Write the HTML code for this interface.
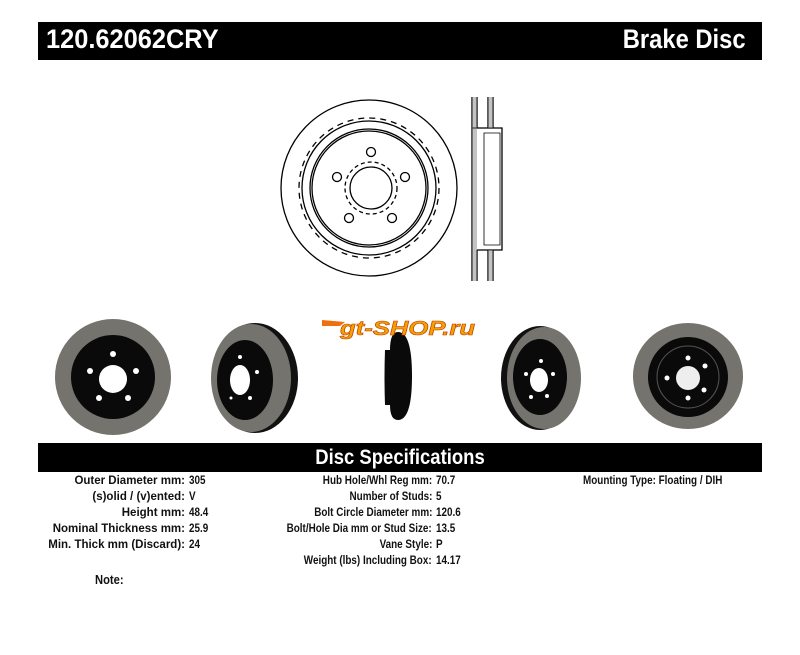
<!DOCTYPE html>
<html><head><meta charset="utf-8"><style>
body{margin:0;background:#fff;width:800px;height:655px;overflow:hidden;position:relative;font-family:"Liberation Sans",Arial,sans-serif;}
.bar{position:absolute;background:#000;color:#fff;font-weight:bold;}
.t{position:absolute;font-weight:bold;font-size:11.5px;white-space:nowrap;transform:scaleX(0.86);color:#111;}
.r{transform-origin:right center;text-align:right}
.l{transform-origin:left center}
.c1{transform:scaleX(1.0)}
</style></head><body>
<div class="bar" style="left:38px;top:22px;width:724px;height:38px"></div>
<div class="t l" style="left:46px;top:24px;font-size:27px;color:#fff;transform:scaleX(0.94)">120.62062CRY</div>
<div class="t r" style="right:54px;top:24px;font-size:27px;color:#fff;transform:scaleX(0.88)">Brake Disc</div>

<svg style="position:absolute;left:0;top:0" width="800" height="655">
<g fill="none" stroke="#000" stroke-width="1.3">
<circle cx="369" cy="188" r="88"/>
<circle cx="369" cy="188" r="70" stroke-dasharray="6 5"/>
<circle cx="369" cy="188" r="67"/>
<circle cx="369" cy="188" r="59"/>
<circle cx="369" cy="188" r="57"/>
<circle cx="371" cy="188" r="21"/>
<circle cx="371" cy="188" r="26" stroke-dasharray="4 3"/>
<circle cx="371" cy="152" r="4.5"/><circle cx="405" cy="177" r="4.5"/><circle cx="392" cy="218" r="4.5"/><circle cx="349" cy="218" r="4.5"/><circle cx="337" cy="177" r="4.5"/>
<path d="M472 97V281M477 97V128M477 250V281M488 97V128M488 250V281M493 97V128M493 250V281M477 128H502V250H477M472 128H477"/>
<path d="M484 133H500V245H484Z" stroke-width="0.8"/>
</g>
<rect x="472" y="97" width="5" height="184" fill="#888" opacity="0.5"/>
<rect x="488" y="97" width="5" height="31" fill="#888" opacity="0.5"/>
<rect x="488" y="250" width="5" height="31" fill="#888" opacity="0.5"/>

<circle cx="113" cy="377" r="58" fill="#75736e"/>
<circle cx="113" cy="377" r="42" fill="#0a0a0a"/>
<circle cx="113" cy="379" r="14" fill="#fff"/>
<g fill="#fff"><circle cx="113" cy="354" r="3"/><circle cx="136" cy="371" r="3"/><circle cx="128" cy="398" r="3"/><circle cx="99" cy="398" r="3"/><circle cx="90" cy="371" r="3"/></g>
<ellipse cx="255" cy="378" rx="43" ry="55" fill="#111"/>
<ellipse cx="251" cy="378" rx="40" ry="54" fill="#75736e"/>
<ellipse cx="245" cy="380" rx="28" ry="40" fill="#0a0a0a"/>
<ellipse cx="240" cy="380" rx="10" ry="15" fill="#fff"/>
<g fill="#fff"><circle cx="240" cy="357" r="2"/><circle cx="257" cy="372" r="2"/><circle cx="250" cy="398" r="2"/><circle cx="231" cy="398" r="1.5"/></g>
<path d="M398 332 Q412 332 412 376 Q412 420 398 420 Q390 420 390 405 L385 405 Q384 376 385 350 L390 350 Q390 332 398 332Z" fill="#0a0a0a"/>
<ellipse cx="540" cy="378" rx="39" ry="52" fill="#111"/>
<ellipse cx="544" cy="378" rx="37" ry="51" fill="#75736e"/>
<ellipse cx="540" cy="377" rx="27" ry="38" fill="#0a0a0a"/>
<ellipse cx="539" cy="380" rx="9" ry="12" fill="#fff"/>
<g fill="#fff"><circle cx="541" cy="361" r="2"/><circle cx="553" cy="374" r="2"/><circle cx="547" cy="396" r="2"/><circle cx="531" cy="397" r="2"/><circle cx="526" cy="374" r="2"/></g>
<ellipse cx="688" cy="376" rx="55" ry="53" fill="#75736e"/>
<circle cx="688" cy="377" r="40" fill="#0a0a0a"/>
<circle cx="688" cy="377" r="31" fill="none" stroke="#555" stroke-width="1"/>
<circle cx="688" cy="378" r="12" fill="#eee"/>
<g fill="#fff"><circle cx="688" cy="358" r="2.5"/><circle cx="705" cy="366" r="2.5"/><circle cx="704" cy="390" r="2.5"/><circle cx="688" cy="398" r="2.5"/><circle cx="667" cy="378" r="2.5"/></g>
<path d="M322 320 L345 322 L340 326 L322 326Z" fill="#f07010"/>
<text x="340" y="335" font-family="Liberation Sans" font-weight="bold" font-style="italic" font-size="20" fill="#f5a000" stroke="#c04000" stroke-width="0.6" textLength="135" lengthAdjust="spacingAndGlyphs">gt-SHOP.ru</text>
</svg>

<div class="bar" style="left:38px;top:443px;width:724px;height:29px"></div>
<div class="t" style="left:0;width:800px;text-align:center;top:446px;font-size:21px;color:#fff;transform:scaleX(0.88)">Disc Specifications</div>

<div class="t r c1" style="right:615px;top:475px">Outer Diameter mm:</div><div class="t l" style="left:189px;top:475px">305</div>
<div class="t r c1" style="right:615px;top:491px">(s)olid / (v)ented:</div><div class="t l" style="left:189px;top:491px">V</div>
<div class="t r c1" style="right:615px;top:507px">Height mm:</div><div class="t l" style="left:189px;top:507px">48.4</div>
<div class="t r c1" style="right:615px;top:523px">Nominal Thickness mm:</div><div class="t l" style="left:189px;top:523px">25.9</div>
<div class="t r c1" style="right:615px;top:539px">Min. Thick mm (Discard):</div><div class="t l" style="left:189px;top:539px">24</div>

<div class="t r" style="right:368px;top:475px">Hub Hole/Whl Reg mm:</div><div class="t l" style="left:436px;top:475px">70.7</div>
<div class="t r" style="right:368px;top:491px">Number of Studs:</div><div class="t l" style="left:436px;top:491px">5</div>
<div class="t r" style="right:368px;top:507px">Bolt Circle Diameter mm:</div><div class="t l" style="left:436px;top:507px">120.6</div>
<div class="t r" style="right:368px;top:523px">Bolt/Hole Dia mm or Stud Size:</div><div class="t l" style="left:436px;top:523px">13.5</div>
<div class="t r" style="right:368px;top:539px">Vane Style:</div><div class="t l" style="left:436px;top:539px">P</div>
<div class="t r" style="right:368px;top:555px">Weight (lbs) Including Box:</div><div class="t l" style="left:436px;top:555px">14.17</div>

<div class="t l" style="left:583px;top:475px">Mounting Type: Floating / DIH</div>
<div class="t l" style="left:95px;top:572px;font-size:13px">Note:</div>
</body></html>
